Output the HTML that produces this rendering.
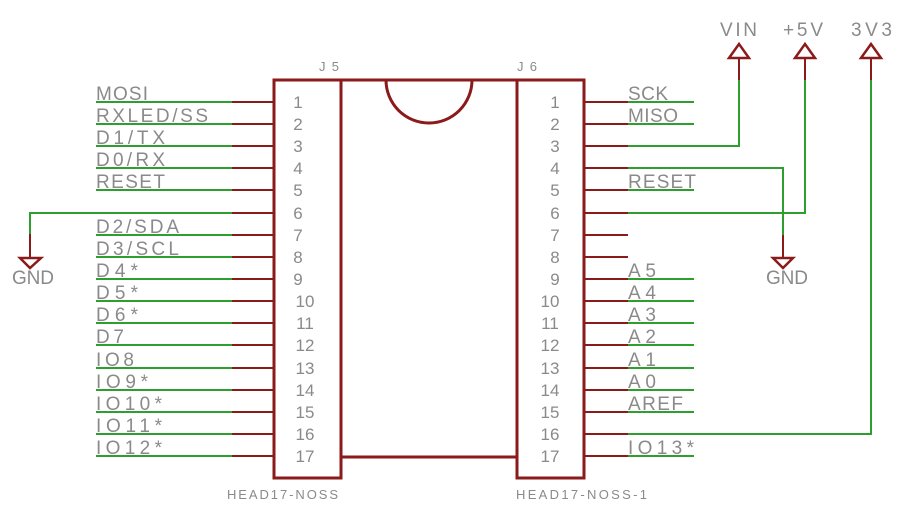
<!DOCTYPE html>
<html><head><meta charset="utf-8"><style>body{margin:0;background:#fff}svg{display:block}text{font-family:"Liberation Sans",sans-serif;fill:#8a8a8a}</style></head><body>
<svg width="910" height="522" viewBox="0 0 910 522" xmlns="http://www.w3.org/2000/svg">
<g stroke="#8b1a1a" stroke-width="2">
<path d="M232 102H274M232 124H274M232 146H274M232 168H274M232 190H274M232 213H274M232 235H274M232 257H274M232 279H274M232 301H274M232 323H274M232 345H274M232 368H274M232 390H274M232 412H274M232 434H274M232 456H274"/>
<path d="M584 102H628M584 124H628M584 146H628M584 168H628M584 190H628M584 213H628M584 235H628M584 257H628M584 279H628M584 301H628M584 323H628M584 345H628M584 368H628M584 390H628M584 412H628M584 434H628M584 456H628"/>
<path d="M30 234V258M739 58V80M805 58V80M871 58V80M783 235V258"/>
</g>
<g stroke="#8b1a1a" stroke-width="3" fill="none">
<rect x="274" y="80" width="67" height="398"/>
<rect x="517" y="80" width="67" height="398"/>
<path d="M341 80H517M341 457H517"/>
<path d="M386 80A43 43 0 0 0 472 80"/>
<path d="M20 258H41L30 268Z M729 58H749L739 44Z M795 58H815L805 44Z M861 58H881L871 44Z M773 258H793L783 268Z" stroke-width="2.5"/>
</g>
<g stroke="#2e9e2e" stroke-width="2" fill="none">
<path d="M96 102H232M96 124H232M96 146H232M96 168H232M96 190H232M96 235H232M96 257H232M96 279H232M96 301H232M96 323H232M96 345H232M96 368H232M96 390H232M96 412H232M96 434H232M96 456H232"/>
<path d="M30 234V213H232"/>
<path d="M628 102H694M628 124H694M628 190H694M628 279H694M628 301H694M628 323H694M628 345H694M628 368H694M628 390H694M628 412H694M628 456H694"/>
<path d="M628 146H739V80M628 168H783V235M628 213H805V80M628 434H871V80"/>
</g>
<g font-size="19">
<text x="96" y="100" textLength="52">MOSI</text>
<text x="96" y="122" textLength="112">RXLED/SS</text>
<text x="96" y="144" textLength="69">D1/TX</text>
<text x="96" y="166" textLength="69">D0/RX</text>
<text x="96" y="188" textLength="69">RESET</text>
<text x="96" y="233" textLength="83">D2/SDA</text>
<text x="96" y="255" textLength="83">D3/SCL</text>
<text x="96" y="277" textLength="42">D4*</text>
<text x="96" y="299" textLength="42">D5*</text>
<text x="96" y="321" textLength="42">D6*</text>
<text x="96" y="343" textLength="28">D7</text>
<text x="96" y="366" textLength="38">IO8</text>
<text x="96" y="388" textLength="52">IO9*</text>
<text x="96" y="410" textLength="66">IO10*</text>
<text x="96" y="432" textLength="66">IO11*</text>
<text x="96" y="454" textLength="66">IO12*</text>
<text x="628" y="100" textLength="40">SCK</text>
<text x="628" y="122" textLength="50">MISO</text>
<text x="628" y="188" textLength="68">RESET</text>
<text x="628" y="277" textLength="28">A5</text>
<text x="628" y="299" textLength="28">A4</text>
<text x="628" y="321" textLength="28">A3</text>
<text x="628" y="343" textLength="28">A2</text>
<text x="628" y="366" textLength="28">A1</text>
<text x="628" y="388" textLength="28">A0</text>
<text x="628" y="410" textLength="55">AREF</text>
<text x="628" y="454" textLength="66">IO13*</text>
<text x="12" y="284" textLength="42">GND</text>
<text x="766" y="284" textLength="42">GND</text>
<text x="720" y="36" textLength="37">VIN</text>
<text x="783" y="36" textLength="40">+5V</text>
<text x="851" y="36" textLength="41">3V3</text>
</g>
<g font-size="17" text-anchor="middle">
<text x="298" y="108">1</text><text x="298" y="130">2</text><text x="298" y="152">3</text><text x="298" y="174">4</text><text x="298" y="196">5</text><text x="298" y="219">6</text><text x="298" y="241">7</text><text x="298" y="263">8</text><text x="298" y="285">9</text><text x="305" y="307">10</text><text x="305" y="329">11</text><text x="305" y="351">12</text><text x="305" y="374">13</text><text x="305" y="396">14</text><text x="305" y="418">15</text><text x="305" y="440">16</text><text x="305" y="462">17</text>
<text x="555" y="108">1</text><text x="555" y="130">2</text><text x="555" y="152">3</text><text x="555" y="174">4</text><text x="555" y="196">5</text><text x="555" y="219">6</text><text x="555" y="241">7</text><text x="555" y="263">8</text><text x="555" y="285">9</text><text x="550" y="307">10</text><text x="550" y="329">11</text><text x="550" y="351">12</text><text x="550" y="374">13</text><text x="550" y="396">14</text><text x="550" y="418">15</text><text x="550" y="440">16</text><text x="550" y="462">17</text>
</g>
<g font-size="13">
<text x="319" y="71" textLength="20">J5</text>
<text x="517" y="71" textLength="20">J6</text>
<text x="227" y="499" textLength="111">HEAD17-NOSS</text>
<text x="516" y="499" textLength="131">HEAD17-NOSS-1</text>
</g>
</svg>
</body></html>
